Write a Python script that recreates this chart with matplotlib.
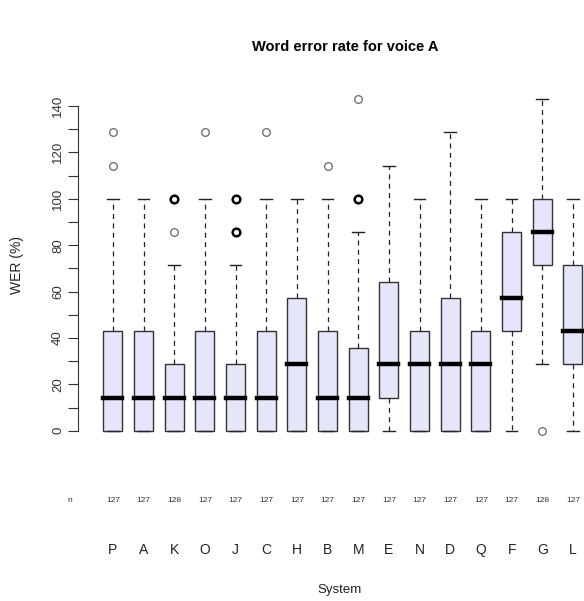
import matplotlib
matplotlib.use('Agg')
import matplotlib.pyplot as plt

plt.rcParams['font.family'] = ['Liberation Sans', 'DejaVu Sans']

# word error rate per system (a sentence has 7 words, so steps of 100/7)
systems = ['P', 'A', 'K', 'O', 'J', 'C', 'H', 'B', 'M', 'E', 'N', 'D', 'Q', 'F', 'G', 'L']
counts = [127, 127, 128, 127, 127, 127, 127, 127, 127, 127, 127, 127, 127, 127, 128, 127]
whis_lo = [0, 0, 0, 0, 0, 0, 0, 0, 0, 0, 0, 0, 0, 0, 28.6, 0]
q1 = [0, 0, 0, 0, 0, 0, 0, 0, 0, 14.3, 0, 0, 0, 42.9, 71.4, 28.6]
median = [14.3, 14.3, 14.3, 14.3, 14.3, 14.3, 28.6, 14.3, 14.3, 28.6, 28.6, 28.6, 28.6, 57.1, 85.7, 42.9]
q3 = [42.9, 42.9, 28.6, 42.9, 28.6, 42.9, 57.1, 42.9, 35.7, 64.3, 42.9, 57.1, 42.9, 85.7, 100, 71.4]
whis_hi = [100, 100, 71.4, 100, 71.4, 100, 100, 100, 85.7, 114.3, 100, 128.6, 100, 100, 142.9, 100]
# single outliers and outliers hit by several sentences (drawn heavier)
outliers = [[114.3, 128.6], [], [85.7], [128.6], [], [128.6], [], [114.3], [142.9],
            [], [], [], [], [], [0], []]
outliers_many = [[], [], [100], [], [85.7, 100], [], [], [], [100],
                 [], [], [], [], [], [], []]

stats = []
for i in range(len(systems)):
    stats.append({'whislo': whis_lo[i], 'q1': q1[i], 'med': median[i], 'q3': q3[i],
                  'whishi': whis_hi[i], 'fliers': outliers[i]})

fig = plt.figure(figsize=(5.84, 6.01), dpi=100)
W, H = 584, 601
ax = fig.add_axes([78 / W, 1 - 444 / H, (584 - 78) / W, (444 - 86) / H])

pos = list(range(1, len(systems) + 1))
ax.bxp(stats, positions=pos, widths=0.62, capwidths=0.38, patch_artist=True,
       boxprops=dict(facecolor='#e6e6fa', edgecolor='#333333', linewidth=1.0),
       medianprops=dict(color='black', linewidth=3.2, solid_capstyle='projecting'),
       whiskerprops=dict(color='#222222', linewidth=0.9, linestyle=(0, (4, 3.5))),
       capprops=dict(color='#222222', linewidth=1.0),
       flierprops=dict(marker='o', markersize=5.5, markerfacecolor='none',
                       markeredgecolor='#666666', markeredgewidth=0.9))

for p, vals in zip(pos, outliers_many):
    if vals:
        ax.plot([p] * len(vals), vals, 'o', ms=5.5, mfc='none', mec='black', mew=1.8)

ax.set_xlim(-0.14, 16.36)
ax.set_ylim(-5.7, 148.6)
for s in ['top', 'right', 'bottom']:
    ax.spines[s].set_visible(False)
ax.spines['left'].set_bounds(0, 140)
ax.spines['left'].set_color('#333333')
ax.set_xticks([])
ax.set_yticks(range(0, 141, 10))
ax.set_yticklabels([str(v) if v % 20 == 0 else '' for v in range(0, 141, 10)],
                   rotation=90, va='center', fontsize=9.5, color='#333333')
ax.tick_params(axis='y', length=7, color='#333333', pad=3)
ax.set_ylabel('WER (%)', fontsize=10, color='#222222', labelpad=20)

# counts and system names below the plot
trans = ax.get_xaxis_transform()
y_n = (444 - 500) / (444 - 86)
y_sys = (444 - 550) / (444 - 86)
ax.text(-0.42, y_n, 'n', transform=trans, ha='center', va='center', fontsize=6, color='#333333')
for p, n, name in zip(pos, counts, systems):
    ax.text(p, y_n, str(n), transform=trans, ha='center', va='center', fontsize=6, color='#333333')
    ax.text(p, y_sys, name, transform=trans, ha='center', va='center', fontsize=10, color='#222222')

fig.text(340 / W, 1 - 590 / H, 'System', ha='center', va='center', fontsize=9.5, color='#222222')
fig.text(345 / W, 1 - 47 / H, 'Word error rate for voice A', ha='center', va='center',
         fontsize=10.5, fontweight='bold')

fig.savefig('out.png', dpi=100)
